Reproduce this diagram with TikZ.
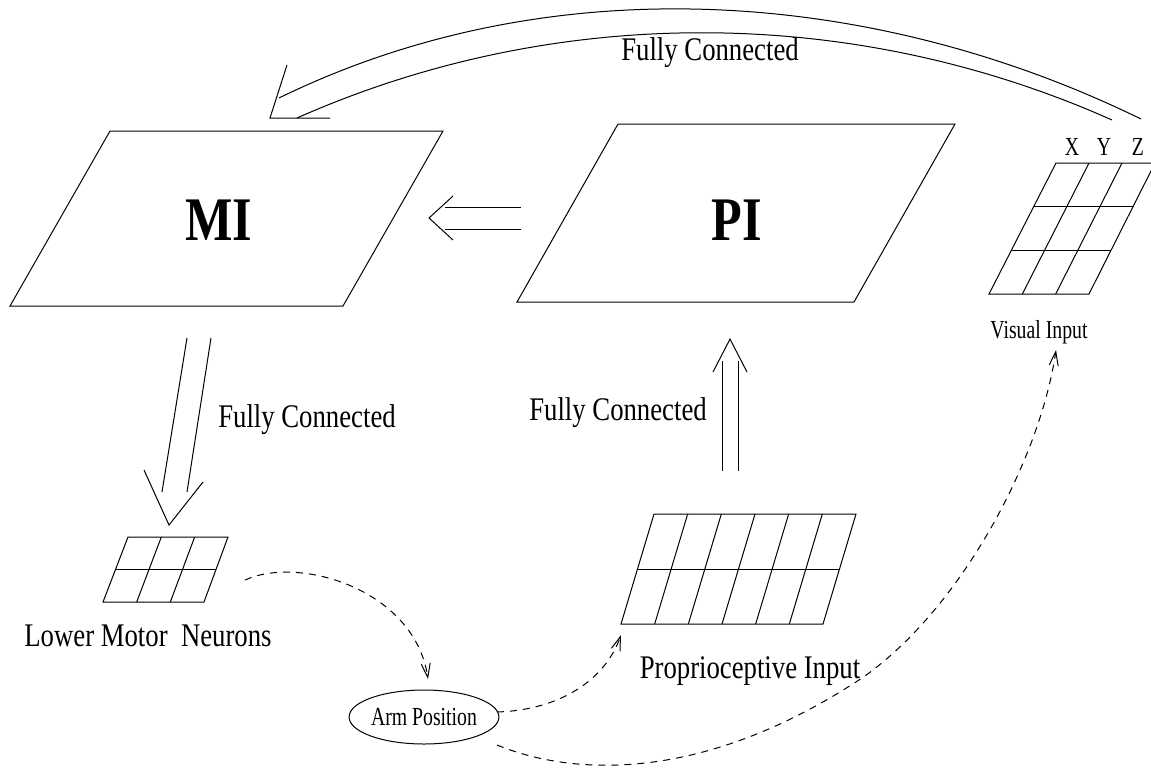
\documentclass[tikz,border=0pt]{standalone}
\usepackage{fontspec}
\usetikzlibrary{arrows.meta,shapes.geometric,calc}
\newfontfamily\lblfont[FakeStretch=0.81]{Liberation Serif}
\newfontfamily\smallfont[FakeStretch=0.76]{Liberation Serif}
\newfontfamily\bigfont[FakeStretch=0.81]{Liberation Serif}

% skewed grid: #1 top left, #2 top right, #3 bottom right, #4 bottom left,
% #5 number of columns, #6 number of rows
\newcommand\skewgrid[6]{%
  \draw (#1) -- (#2) -- (#3) -- (#4) -- cycle;
  \pgfmathtruncatemacro\ncols{#5-1}%
  \pgfmathtruncatemacro\nrows{#6-1}%
  \foreach \k in {1,...,\ncols}
    \draw ($(#1)!\k/#5!(#2)$) -- ($(#4)!\k/#5!(#3)$);
  \foreach \k in {1,...,\nrows}
    \draw ($(#1)!\k/#6!(#4)$) -- ($(#2)!\k/#6!(#3)$);
}

\begin{document}
\begin{tikzpicture}[x=1pt,y=-1pt,line width=1pt,
  lbl/.style={font=\lblfont\fontsize{33}{36}\selectfont,inner sep=0pt,anchor=base},
  sml/.style={font=\smallfont\fontsize{26}{30}\selectfont,inner sep=0pt,anchor=base},
  big/.style={font=\bigfont\bfseries\fontsize{62}{66}\selectfont,inner sep=0pt,anchor=base},
  flow/.style={dash pattern=on 7pt off 6pt,-{Straight Barb[length=14pt,width=9pt]}},
]
\clip (0,0) rectangle (1151,772);

% ---- MI and PI layers ----
\draw (110,131) -- (443,131) -- (343,306) -- (10,306) -- cycle;
\node[big] (mi) at (219,240) {MI};
\draw (618,124) -- (955,124) -- (854,302) -- (517,302) -- cycle;
\node[big] (pi) at (737,240) {PI};

% ---- input / output grids ----
\coordinate (lmn-tl) at (128,537); \coordinate (lmn-tr) at (228,537);
\coordinate (lmn-br) at (204,602); \coordinate (lmn-bl) at (103,602);
\skewgrid{lmn-tl}{lmn-tr}{lmn-br}{lmn-bl}{3}{2}

\coordinate (prop-tl) at (654,514); \coordinate (prop-tr) at (856,514);
\coordinate (prop-br) at (823,624); \coordinate (prop-bl) at (621,624);
\skewgrid{prop-tl}{prop-tr}{prop-br}{prop-bl}{6}{2}

\coordinate (vis-tl) at (1056,163); \coordinate (vis-tr) at (1155,163);
\coordinate (vis-br) at (1089,294); \coordinate (vis-bl) at (989,294);
\skewgrid{vis-tl}{vis-tr}{vis-br}{vis-bl}{3}{3}

% ---- labels ----
\node[sml] (lx) at (1072,155) {X};
\node[sml] (ly) at (1104,155) {Y};
\node[sml] (lz) at (1138,155) {Z};
\node[sml] (vis-lbl) at (1039,338) {Visual Input};
\node[lbl] (lmn-lbl) at (148,646) {Lower Motor\ \ Neurons};
\node[lbl] (prop-lbl) at (750,678) {Proprioceptive Input};
\node[lbl] (fc-top) at (710,60) {Fully Connected};
\node[lbl] (fc-down) at (307,427) {Fully Connected};
\node[lbl] (fc-up) at (618,420) {Fully Connected};

\node[draw,ellipse,minimum width=142pt,minimum height=54pt,inner sep=0pt,
      font=\smallfont\fontsize{26}{30}\selectfont] (arm) at (424,717) {Arm Position};

% ---- wide (double-line) connections ----
% visual input -> MI
\draw (1141,119) .. controls (871,-13) and (549,-34) .. (279,98);
\draw (1112,120) .. controls (852,4) and (554,4) .. (297,118);
\draw (287,65) -- (270,118) -- (330,118);
% PI -> MI
\draw (445,207) -- (521,207);
\draw (445,229) -- (521,229);
\draw (453,196) -- (429,218) -- (453,240);
% MI -> lower motor neurons
\draw (187,338) -- (162,492);
\draw (211,338) -- (187,492);
\draw (144,470) -- (169,525) -- (203,482);
% proprioceptive input -> PI
\draw (722,471) -- (722,361);
\draw (738,471) -- (738,361);
\draw (713,372) -- (730,339) -- (747,372);

% ---- dashed feedback loop ----
\coordinate (lmn-out) at (245,580);
\coordinate (arm-in) at (428,679);
\coordinate (arm-out) at (497,712);
\coordinate (arm-low) at (497,745);
\coordinate (prop-in) at (621,635);
\coordinate (vis-in) at (1056,350);
\draw[flow] (lmn-out) .. controls (300,555) and (415,590) .. (arm-in);
\draw[flow] (arm-out) .. controls (560,710) and (605,680) .. (prop-in);
\draw[flow] (arm-low) .. controls (570,775) and (700,785) .. (862,678)
            .. controls (960,610) and (1040,460) .. (vis-in);
\end{tikzpicture}
\end{document}
